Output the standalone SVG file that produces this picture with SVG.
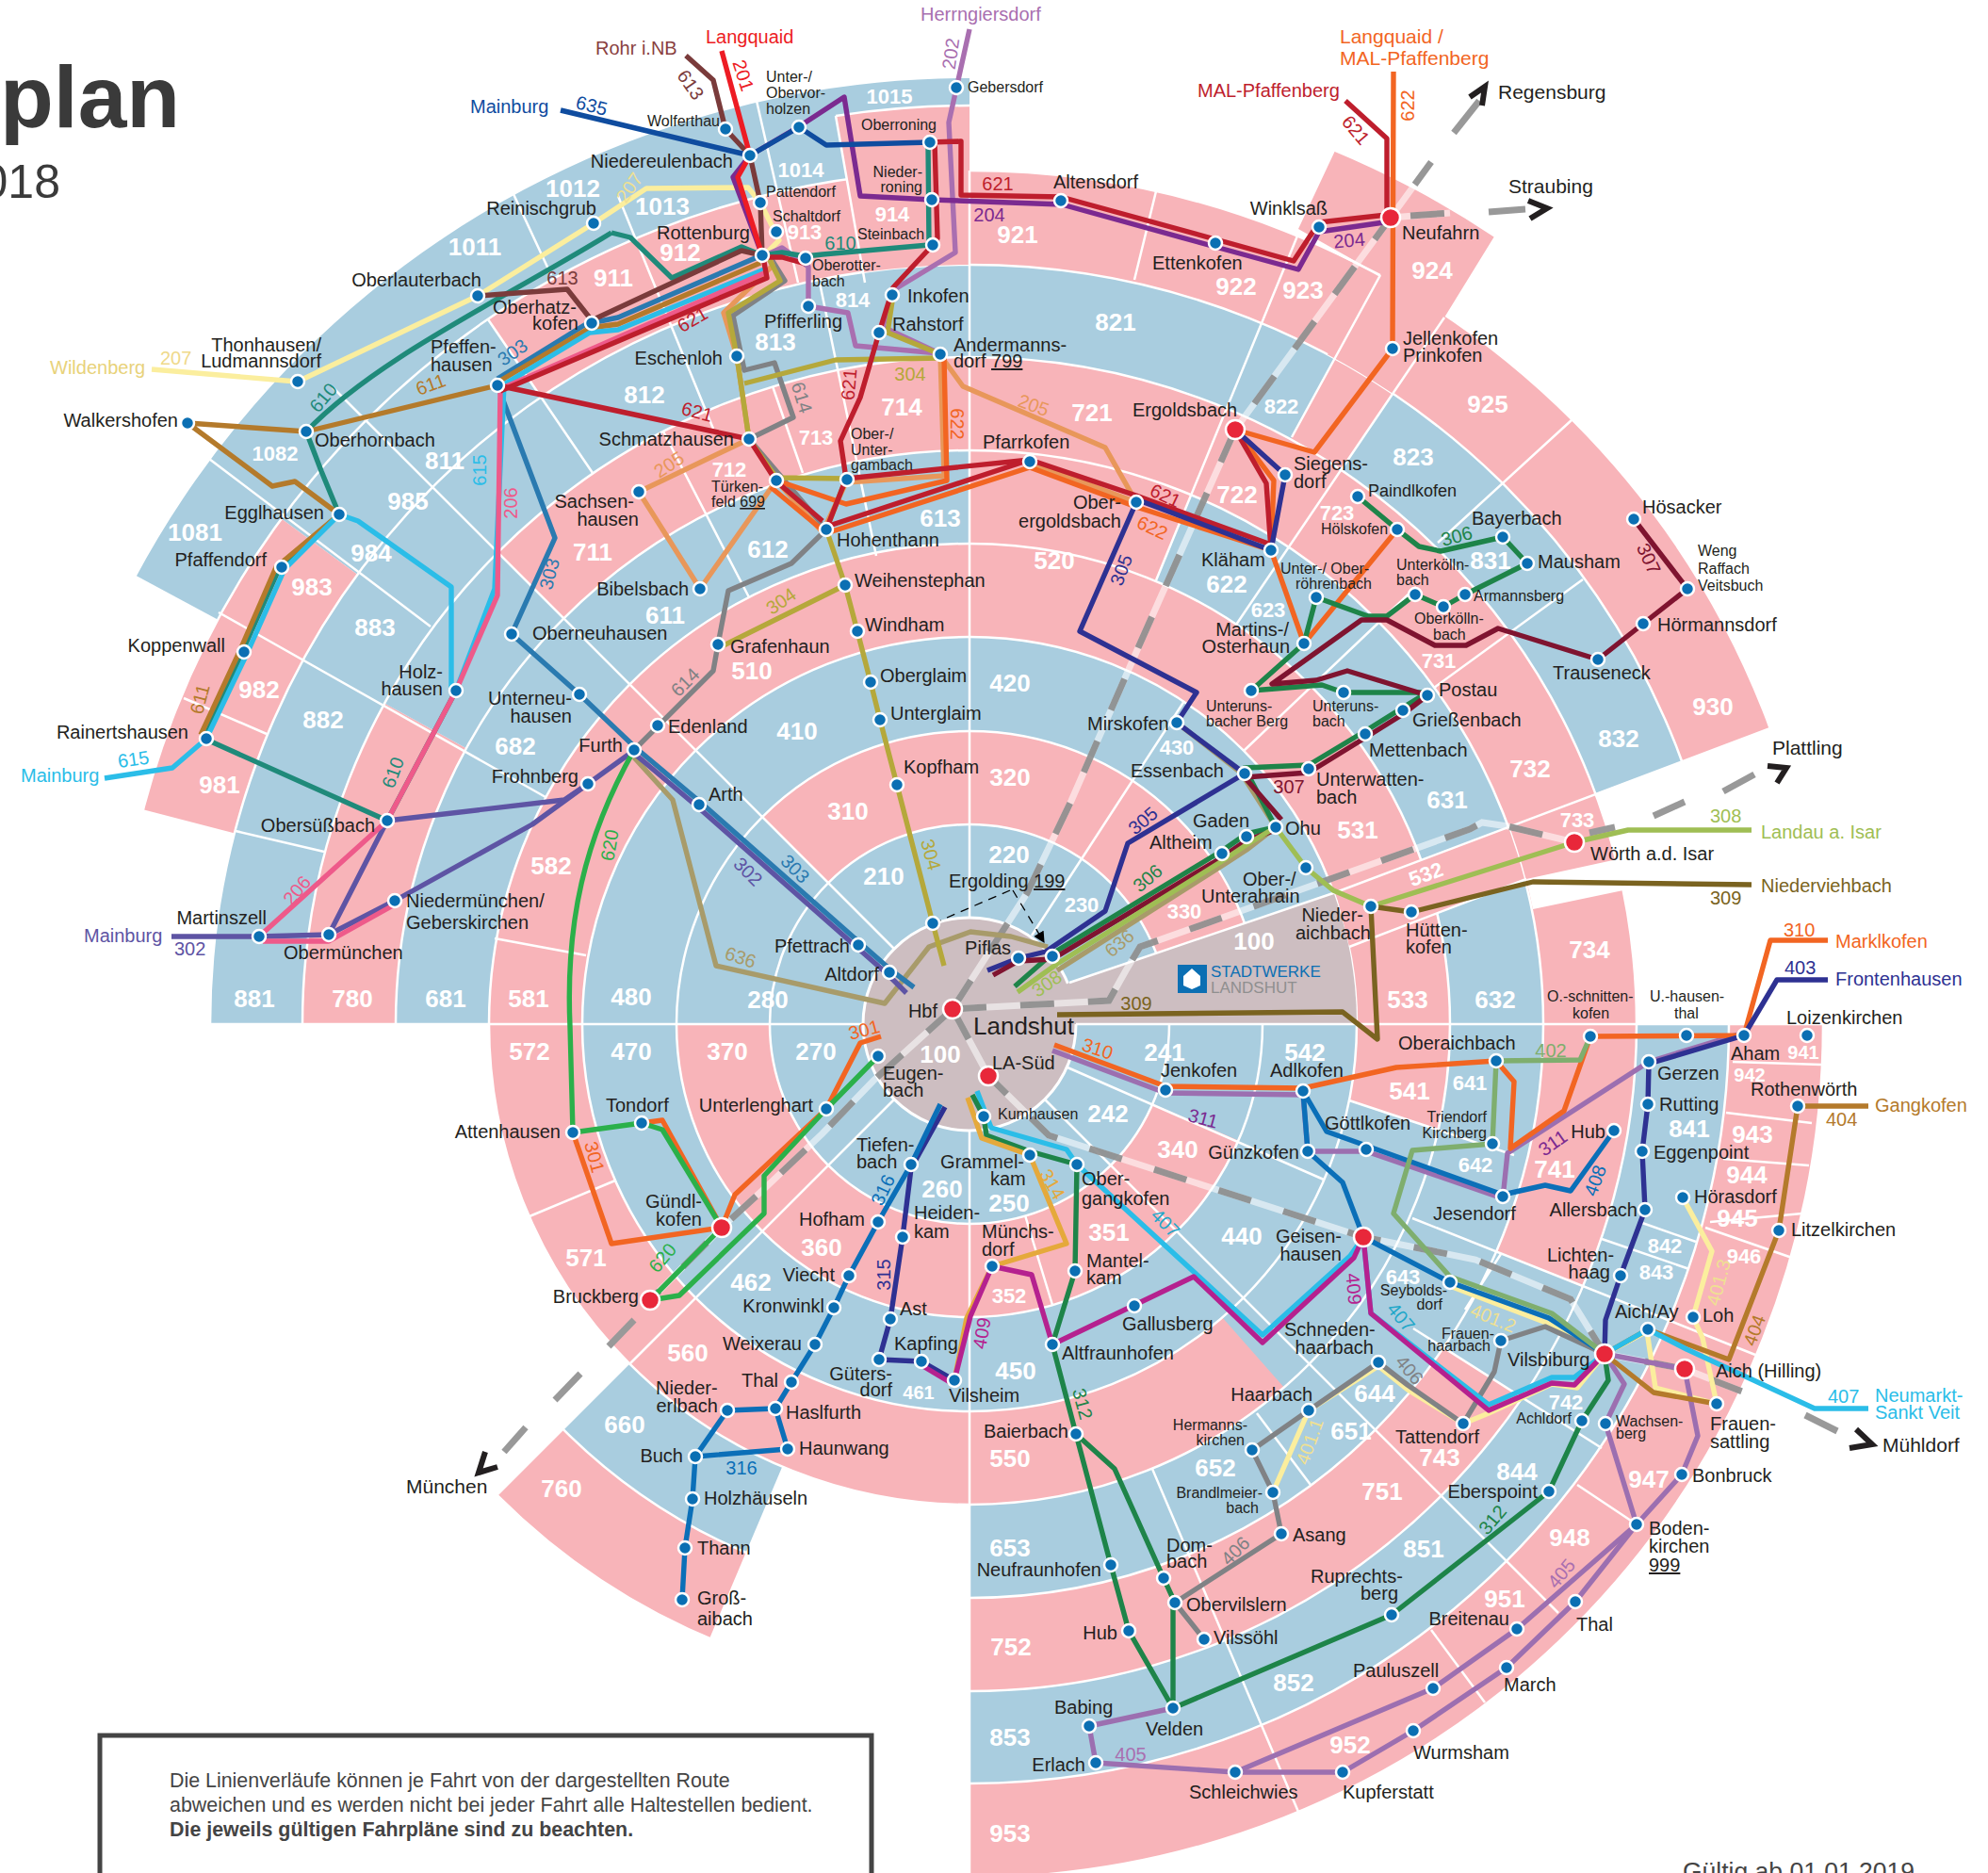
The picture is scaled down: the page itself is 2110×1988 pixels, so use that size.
<svg xmlns="http://www.w3.org/2000/svg" width="2110" height="1988" viewBox="0 0 2110 1988">
<style>
text{font-family:"Liberation Sans",Arial,sans-serif;fill:#231f20}
.t{font-size:20px}.s{font-size:16px}.e{text-anchor:end}.d{font-size:21.5px}
.z{font-size:26px;font-weight:bold;fill:#fff;text-anchor:middle}
.zs{font-size:22px;font-weight:bold;fill:#fff;text-anchor:middle}
.n{font-size:20px;text-anchor:middle}
.p{fill:#f8b4b9}.b{fill:#a9cddf}.g{fill:#cdbec1}
.w{fill:none;stroke:#fff;stroke-width:2.5}
.st{fill:#0b6fb3;stroke:#fff;stroke-width:2.5}
.rd{fill:#e8273a;stroke:#fff;stroke-width:2.5}
.c path,.c polyline{fill:none;stroke-width:5.4;stroke-linejoin:round}
.rl{fill:none;stroke:#fff;stroke-width:7;opacity:.55}
.rk{fill:none;stroke:#858585;stroke-width:7;stroke-dasharray:36 36;opacity:.85}
.rs{fill:none;stroke:#999;stroke-width:7}
.ch{fill:none;stroke:#231f20;stroke-width:6}
</style>
<defs>
<clipPath id="c2"><path clip-rule="evenodd" d="M718,1087a311,311 0 1,0 622,0a311,311 0 1,0 -622,0zM817,1087a212,212 0 1,0 424,0a212,212 0 1,0 -424,0z"/></clipPath>
<clipPath id="c4"><path clip-rule="evenodd" d="M519,1087a510,510 0 1,0 1020,0a510,510 0 1,0 -1020,0zM618,1087a411,411 0 1,0 822,0a411,411 0 1,0 -822,0z"/></clipPath>
<clipPath id="c5"><path clip-rule="evenodd" d="M420,1087a609,609 0 1,0 1218,0a609,609 0 1,0 -1218,0zM519,1087a510,510 0 1,0 1020,0a510,510 0 1,0 -1020,0z"/></clipPath>
<clipPath id="c6"><path clip-rule="evenodd" d="M321,1087a708,708 0 1,0 1416,0a708,708 0 1,0 -1416,0zM420,1087a609,609 0 1,0 1218,0a609,609 0 1,0 -1218,0z"/></clipPath>
<clipPath id="c7"><path clip-rule="evenodd" d="M223,1087a806,806 0 1,0 1612,0a806,806 0 1,0 -1612,0zM321,1087a708,708 0 1,0 1416,0a708,708 0 1,0 -1416,0z"/></clipPath>
<clipPath id="c8"><path clip-rule="evenodd" d="M123,1087a906,906 0 1,0 1812,0a906,906 0 1,0 -1812,0zM223,1087a806,806 0 1,0 1612,0a806,806 0 1,0 -1612,0z"/></clipPath>
<clipPath id="c9"><path clip-rule="evenodd" d="M25,1087a1004,1004 0 1,0 2008,0a1004,1004 0 1,0 -2008,0zM123,1087a906,906 0 1,0 1812,0a906,906 0 1,0 -1812,0z"/></clipPath>
<clipPath id="c89"><path clip-rule="evenodd" d="M25,1087a1004,1004 0 1,0 2008,0a1004,1004 0 1,0 -2008,0zM223,1087a806,806 0 1,0 1612,0a806,806 0 1,0 -1612,0z"/></clipPath>
<clipPath id="c45"><path clip-rule="evenodd" d="M420,1087a609,609 0 1,0 1218,0a609,609 0 1,0 -1218,0zM618,1087a411,411 0 1,0 822,0a411,411 0 1,0 -822,0z"/></clipPath>
<clipPath id="d3"><circle cx="1029" cy="1087" r="411"/></clipPath>
<marker id="ah" viewBox="0 0 10 10" refX="9" refY="5" markerWidth="12" markerHeight="12" markerUnits="userSpaceOnUse" orient="auto"><path d="M0,0L10,5L0,10z" fill="#000"/></marker>
</defs>
<g id="zones">
<circle class="b" cx="1029" cy="1087" r="411"/>
<g clip-path="url(#c2)"><rect class="p" x="700" y="760" width="660" height="660"/><polygon class="b" points="1029,1087 -100,1087 -100,-42"/><polygon class="b" points="1029,1087 1500,1087 1500,1290 1133,1133"/></g>
<g clip-path="url(#c4)"><rect class="p" x="500" y="560" width="1060" height="1060"/><polygon class="b" points="1432,1168 1640,1237 1640,1700 1440,1560 1297,1398 1250,1346"/></g>
<g clip-path="url(#c5)"><rect class="b" x="1029" y="400" width="700" height="1400"/><rect class="b" x="400" y="400" width="629" height="687"/><polygon class="p" points="1029,1087 1029,300 1341,339 1227,616"/><polygon class="b" points="1029,1087 329,1787 616,2063"/></g>
<g clip-path="url(#c6)"><rect class="p" x="1029" y="300" width="800" height="1600"/><polygon class="p" points="1029,1087 1029,-100 29,87"/><polygon class="p" points="1029,1087 -100,1087 -87,475"/><polygon class="b" points="1029,1087 -87,475 29,87"/><polygon class="b" points="1460,1270 1540,1308 1713,1380 1700,1537 1540,1435 1460,1384"/><polygon class="p" points="1029,1087 329,1787 616,2063"/></g>
<g clip-path="url(#c7)"><polygon class="b" points="1029,1087 -100,1087 -100,-100 1029,-100"/><polygon class="b" points="1029,-100 2200,-100 2200,653 1694,842 1694,1087 2200,1087 2200,2100 1029,2100"/><polygon class="p" points="1465,292 1533,337 1364,585 1330,539"/></g>
<g clip-path="url(#c8)"><polygon class="p" points="1029,-100 2200,-100 2200,653 1694,842 1694,1087 2200,1087 2200,2100 1029,2100"/><polygon class="p" points="1029,1087 1029,-100 262,-35"/><polygon class="b" points="1029,1087 262,-35 80,390"/><polygon class="p" points="1029,1087 80,390 -107,792"/></g>
<g clip-path="url(#c9)"><polygon class="b" points="1029,1087 -32,516 -32,-100 1029,-100"/></g>
<g fill="none" stroke="#fff" stroke-width="2.5"><circle cx="1029" cy="1087" r="212"/><circle cx="1029" cy="1087" r="311"/><circle cx="1029" cy="1087" r="411"/><circle cx="1029" cy="1087" r="510"/><circle cx="1029" cy="1087" r="609"/><circle cx="1029" cy="1087" r="708"/><circle cx="1029" cy="1087" r="806"/><circle cx="1029" cy="1087" r="906"/></g>
<g clip-path="url(#c89)"><polygon class="p" points="1378,243 1440,111 1610,212 1533,337 1400,530 1340,480 1465,292"/><path class="p" d="M887,123A975,975 0 0 1 1029,112L1029,300L918,300Z"/></g>
<g clip-path="url(#c45)"><polygon class="p" points="1418,947 1694,842 1700,902 1432,1005"/></g>
<polygon fill="#fff" points="1620,933 1735,908 1742,941 1627,965"/>
<circle class="g" cx="1029" cy="1087" r="113" stroke="#fff" stroke-width="3"/>
<g clip-path="url(#d3)"><polygon class="g" points="1090,1087 1100,1060 1135,1043 1418,947 1460,930 1460,1087"/></g>
<g class="w">
<path class="w" d="M1029,974V181M1029,1200V1993M915,1087H223M1142,1087H1936"/>
<path class="w" d="M949,1007L353,411M949,1167L669,1447M1109,1167L1654,1712M1133,1133L1405,1252M1499,1293L1863,1438M1432,1168L1607,1226M1500,1410L1700,1537"/>
<path class="w" d="M545,206L585,292M656,208L757,455M803,107L847,300M887,123L918,300M870,300L930,590M820,410L852,502M518,339L629,502M704,458L795,634M222,487L457,665M232,650L579,846M195,741L283,779M250,882L344,904M525,996L622,1014M562,1291L653,1253"/>
<path class="w" d="M1227,203L1204,297M1378,248L1227,616M1465,292L1371,464M1378,248L1465,292M1533,337L1312,663M1135,1043L1418,947L1879,773M1432,1005L1620,933M1669,445L1526,576M1680,615L1522,730M1503,623L1320,797M1095,993L1257,744"/>
<path class="w" d="M1223,1559L1378,1923M1334,1500L1391,1576M1519,1730L1576,1807M1674,1576L1734,1616M1088,1290L1117,1385M1700,1315L1793,1347M1743,1298L1800,1318M1593,1331L1555,1390"/>
<path class="w" d="M1839,1127L1933,1130M1832,1181L1923,1192M1829,1230L1920,1237M1815,1297L1913,1288M1810,1303L1902,1335M887,123A975,975 0 0 1 1029,112"/>
</g>
<g id="zonelabels">
<text class="zs" x="944" y="110">1015</text><text class="z" x="608" y="209">1012</text><text class="z" x="703" y="228">1013</text><text class="zs" x="850" y="188">1014</text><text class="z" x="504" y="271">1011</text><text class="zs" x="947" y="235">914</text><text class="zs" x="854" y="254">913</text><text class="z" x="722" y="277">912</text><text class="z" x="651" y="304">911</text><text class="zs" x="905" y="326">814</text><text class="z" x="823" y="372">813</text><text class="z" x="684" y="428">812</text><text class="z" x="472" y="498">811</text><text class="z" x="433" y="541">985</text><text class="zs" x="292" y="489">1082</text><text class="z" x="207" y="574">1081</text><text class="z" x="394" y="596">984</text><text class="z" x="331" y="632">983</text><text class="z" x="398" y="675">883</text><text class="z" x="275" y="741">982</text><text class="z" x="343" y="773">882</text><text class="z" x="547" y="801">682</text><text class="z" x="233" y="842">981</text><text class="z" x="270" y="1069">881</text><text class="z" x="374" y="1069">780</text><text class="z" x="473" y="1069">681</text><text class="z" x="561" y="1069">581</text><text class="z" x="670" y="1067">480</text><text class="z" x="815" y="1070">280</text><text class="z" x="562" y="1125">572</text><text class="z" x="670" y="1125">470</text><text class="z" x="772" y="1125">370</text><text class="z" x="866" y="1125">270</text><text class="z" x="585" y="928">582</text><text class="z" x="957" y="441">714</text><text class="zs" x="866" y="472">713</text><text class="zs" x="774" y="506">712</text><text class="z" x="629" y="595">711</text><text class="z" x="998" y="559">613</text><text class="z" x="815" y="592">612</text><text class="z" x="706" y="662">611</text><text class="z" x="798" y="721">510</text><text class="z" x="846" y="785">410</text><text class="z" x="900" y="870">310</text><text class="z" x="938" y="939">210</text><text class="z" x="663" y="1521">660</text><text class="z" x="596" y="1589">760</text><text class="z" x="730" y="1445">560</text><text class="z" x="622" y="1344">571</text><text class="z" x="797" y="1370">462</text><text class="z" x="872" y="1333">360</text><text class="zs" x="975" y="1485" style="font-size:20px">461</text><text class="z" x="1000" y="1271">260</text><text class="z" x="1071" y="1286">250</text><text class="z" x="998" y="1128">100</text><text class="z" x="1071" y="916">220</text><text class="zs" x="1148" y="968">230</text><text class="zs" x="1257" y="975">330</text><text class="z" x="1236" y="1126">241</text><text class="z" x="1176" y="1191">242</text><text class="z" x="1250" y="1229">340</text><text class="z" x="1177" y="1317">351</text><text class="zs" x="1071" y="1383">352</text><text class="z" x="1318" y="1321">440</text><text class="z" x="1078" y="1464">450</text><text class="z" x="1072" y="1557">550</text><text class="z" x="1072" y="1652">653</text><text class="z" x="1073" y="1757">752</text><text class="z" x="1072" y="1853">853</text><text class="z" x="1072" y="1955">953</text><text class="z" x="1290" y="1567">652</text><text class="z" x="1459" y="1488">644</text><text class="z" x="1434" y="1528">651</text><text class="zs" x="1489" y="1363">643</text><text class="z" x="1528" y="1556">743</text><text class="z" x="1467" y="1592">751</text><text class="zs" x="1662" y="1496">742</text><text class="z" x="1610" y="1571">844</text><text class="z" x="1511" y="1653">851</text><text class="z" x="1373" y="1795">852</text><text class="z" x="1750" y="1579">947</text><text class="z" x="1666" y="1641">948</text><text class="z" x="1597" y="1706">951</text><text class="z" x="1433" y="1861">952</text><text class="zs" x="1767" y="1330">842</text><text class="zs" x="1758" y="1358">843</text><text class="zs" x="1851" y="1341">946</text><text class="z" x="1844" y="1302">945</text><text class="z" x="1854" y="1256">944</text><text class="z" x="1860" y="1213">943</text><text class="zs" x="1857" y="1148" style="font-size:20px">942</text><text class="zs" x="1914" y="1124" style="font-size:20px">941</text><text class="z" x="1793" y="1207">841</text><text class="z" x="1650" y="1250">741</text><text class="zs" x="1566" y="1244">642</text><text class="zs" x="1560" y="1157">641</text><text class="z" x="1496" y="1167">541</text><text class="z" x="1385" y="1126">542</text><text class="z" x="1494" y="1070">533</text><text class="z" x="1587" y="1070">632</text><text class="z" x="1687" y="1017">734</text><text class="zs" transform="translate(1516,935) rotate(-20)" x="0" y="0">532</text><text class="zs" x="1674" y="878">733</text><text class="z" x="1624" y="825">732</text><text class="z" x="1718" y="793">832</text><text class="z" x="1818" y="759">930</text><text class="z" x="1536" y="858">631</text><text class="z" x="1441" y="890">531</text><text class="zs" x="1249" y="801">430</text><text class="z" x="1072" y="734">420</text><text class="z" x="1072" y="834">320</text><text class="z" x="1331" y="1008">100</text><text class="zs" x="1527" y="709">731</text><text class="zs" x="1346" y="655">623</text><text class="z" x="1302" y="629">622</text><text class="z" x="1119" y="604">520</text><text class="zs" x="1419" y="552">723</text><text class="z" x="1313" y="534">722</text><text class="z" x="1159" y="447">721</text><text class="zs" x="1360" y="439">822</text><text class="z" x="1500" y="494">823</text><text class="z" x="1582" y="604">831</text><text class="z" x="1579" y="438">925</text><text class="z" x="1184" y="351">821</text><text class="z" x="1080" y="258">921</text><text class="z" x="1312" y="313">922</text><text class="z" x="1383" y="317">923</text><text class="z" x="1520" y="296">924</text>
</g>
</g>
<g id="rail">
<polyline class="rl" points="1011,1071 1090,948 1137,850 1210,683 1311,456 1476,231 1519,172"/><polyline class="rk" points="1011,1071 1090,948 1137,850 1210,683 1311,456 1476,231 1519,172"/>
<polyline class="rs" points="1543,141 1570,107"/>
<polyline class="rl" points="1476,231 1539,226"/><polyline class="rk" points="1497,229 1539,226"/><polyline class="rs" points="1580,225 1619,222"/>
<polyline class="rl" points="1011,1071 1177,1062 1195,1030 1210,1005 1300,973 1560,880 1573,873 1600,877 1671,894"/><polyline class="rk" points="1011,1071 1177,1062 1195,1030 1210,1005 1300,973 1560,880 1573,873 1600,877 1671,894"/>
<polyline class="rs" points="1687,884 1714,878"/><polyline class="rs" points="1755,866 1788,851"/><polyline class="rs" points="1829,840 1862,822"/>
<polyline class="rl" points="1011,1071 1049,1142 1113,1205 1447,1313 1566,1337 1667,1379 1703,1437 1788,1453 1877,1488"/><polyline class="rk" points="1011,1071 1049,1142 1113,1205 1447,1313 1566,1337 1667,1379 1703,1437 1788,1453 1877,1488"/>
<polyline class="rs" points="1916,1502 1950,1519"/>
<polyline class="rl" points="1011,1071 927,1147 873,1203 813,1260 766,1303 690,1380"/><polyline class="rk" points="1011,1071 927,1147 873,1203 813,1260 766,1303 690,1380"/>
<polyline class="rs" points="673,1401 646,1429"/><polyline class="rs" points="616,1458 589,1486"/><polyline class="rs" points="558,1515 535,1541"/>
<polyline class="ch" points="1560,103 1576,92 1573,112"/><polyline class="ch" points="1622,213 1642,221 1624,232"/><polyline class="ch" points="1876,813 1896,815 1886,831" stroke="#444"/><polyline class="ch" points="1970,1517 1987,1533 1963,1537"/><polyline class="ch" points="515,1541 508,1563 528,1557"/>
</g>
<g id="connectors" class="c">
<g stroke="#fbee9e"><polyline points="161,392 303,404 316,405 507,314 630,237 686,200 794,199 807,215 823,247 827,255 810,272"/><polyline points="1539,1365 1644,1405 1703,1437 1674,1473 1647,1469 1580,1500 1553,1511 1494,1475 1463,1450 1389,1497 1351,1584"/><polyline points="1786,1271 1817,1328 1797,1398 1807,1420 1822,1490 1757,1473 1748,1413 1703,1437"/></g>
<g stroke="#a96fb0"><polyline points="1029,31 1007,130 1014,268 948,308 937,347 997,375 908,367 900,332 858,325 858,283 830,263 810,272"/></g>
<g stroke="#9c6fb0"><polyline points="1117,1115 1237,1160 1383,1162 1388,1222 1450,1222 1595,1272 1600,1224 1750,1127 1851,1096"/><polyline points="1703,1437 1724,1469 1704,1511 1737,1618 1672,1700 1599,1770 1500,1837 1425,1881 1311,1881 1163,1871 1156,1832 1245,1813"/><polyline points="1703,1437 1788,1453 1802,1524 1785,1565 1737,1618 1610,1729 1521,1792 1311,1881"/></g>
<g stroke="#a89b6a"><polyline points="673,804 714,849 760,1025 939,1065 986,1005 1030,989 1073,994 1112,1005"/><polyline points="1122,1030 1300,917 1323,902 1354,878 1317,820 1249,767"/></g>
<g stroke="#808285"><polyline points="809,271 820,277 833,298 778,335 790,393 822,385 842,443 795,466 877,562 840,598 773,627 762,684 757,712 673,796"/><polyline points="1703,1437 1640,1408 1593,1423 1586,1456 1553,1511 1494,1470 1463,1446 1389,1497 1329,1539 1351,1584 1360,1628 1247,1701 1278,1740"/></g>
<g stroke="#e8975a"><polyline points="678,522 795,466 782,378 768,332 820,282 816,272"/><polyline points="678,522 743,625 824,510 873,565 898,512 1002,505 998,377 1022,410 1173,475 1206,533"/><polyline points="1093,491 1206,533"/></g>
<g stroke="#b5a83b"><polyline points="1002,1025 990,980 952,833 934,764 924,724 910,670 897,621 877,562 898,508 824,507 795,466 782,378 773,332 828,298 815,272"/><polyline points="790,407 887,382 998,380"/><polyline points="998,376 942,353 948,313"/><polyline points="897,621 762,688"/></g>
<g stroke="#5e54a4"><polyline points="182,994 275,994 349,992 411,871 599,849 624,832"/><polyline points="349,992 419,956 565,875 624,832 671,798 740,856 909,1005 942,1034 962,1054"/></g>
<g stroke="#2a7ab0"><polyline points="528,402 622,344 656,337 806,272"/><polyline points="528,409 589,571 543,673 615,737 675,794 744,852 913,1001 946,1030 970,1048"/></g>
<g stroke="#1f8a7a"><polyline points="985,151 986,260 873,270 855,272 830,268 809,271 787,262 713,295 669,252 649,247"/><path d="M649,247C530,320 400,380 325,458L341,500L360,546L297,602L257,692L217,784L411,871L484,733"/></g>
<g stroke="#b47a2b"><polyline points="807,279 656,344 626,348 531,404 528,409 325,458 199,449 289,516 313,511 360,546 293,602 254,692 213,780"/><polyline points="1983,1174 1908,1174 1888,1306 1835,1443 1749,1411 1703,1437 1755,1478 1822,1490"/></g>
<g stroke="#2bbde8"><polyline points="811,286 656,350 626,353 535,408 525,625 484,733"/><polyline points="360,546 380,553 479,623 479,730"/><polyline points="360,546 302,604 262,694 219,784 183,815 111,826"/><polyline points="1037,1158 1052,1197 1132,1220 1143,1236 1340,1417 1433,1333 1447,1313 1455,1394 1580,1491 1647,1462 1671,1462 1703,1437 1749,1411 1790,1432 1926,1495 1983,1495"/></g>
<g stroke="#ee5a8a"><polyline points="811,290 531,413 528,632 484,733 411,871 275,994"/><polyline points="279,999 349,999 419,960"/></g>
<g stroke="#7a3b3b"><polyline points="728,59 757,85 770,137 796,165 807,215 809,271 787,266 628,340 602,307 507,314"/></g>
<g stroke="#7b2a90"><polyline points="809,271 778,188 796,165 847,135 896,103 913,208 989,212 1127,217 1290,262 1378,286 1400,246 1476,235"/></g>
<g stroke="#ed1c24"><polyline points="766,54 796,165 783,188 809,271"/></g>
<g stroke="#0f4c9f"><polyline points="595,117 796,165 848,135 877,154 987,151"/></g>
<g stroke="#f26522"><polyline points="1479,76 1478,370 1395,480 1311,456 1352,510 1349,584 1206,538 1093,496 877,566 818,517"/><polyline points="824,510 898,535 1005,510 1002,380"/><polyline points="1349,584 1384,683 1483,562"/><polyline points="935,1100 913,1107 877,1177 780,1268 766,1303 649,1320 608,1202"/><polyline points="766,1303 703,1189 681,1192"/><polyline points="1940,998 1879,998 1851,1099 1688,1100 1660,1179 1603,1219 1607,1148 1588,1126 1482,1133 1383,1155 1237,1153 1119,1109"/></g>
<g stroke="#be1e2d"><polyline points="1428,107 1472,147 1472,228 1400,236 1373,277 1290,254 1126,209 1020,207 1020,150 987,151 992,151 995,253 990,260 948,305 933,353 913,422 892,468 898,508 877,562"/><polyline points="898,508 1093,488 1206,526 1349,578"/><polyline points="1311,456 1344,513 1349,584"/><polyline points="877,559 1093,488"/><polyline points="531,415 814,295 810,273 830,273 855,280"/><polyline points="528,409 795,466 824,511 873,553"/></g>
<g stroke="#2e3192"><polyline points="1206,533 1146,670 1270,735 1249,767 1321,821 1197,895 1173,967 1110,1010 1081,1017 1048,1030"/><polyline points="1311,456 1364,504 1349,584 1206,530"/><polyline points="1003,1175 967,1240 958,1313 945,1400 933,1443 978,1445 1013,1465"/><polyline points="1940,1040 1886,1040 1851,1099 1750,1129 1749,1172 1743,1222 1746,1284 1720,1354 1704,1401 1703,1437"/></g>
<g stroke="#1e8449"><polyline points="1441,527 1483,562 1506,580 1529,585 1595,570 1621,598 1555,631 1532,644 1502,631 1472,654 1452,654 1397,634 1384,683 1328,733 1403,727 1426,735 1515,735 1489,751 1449,776 1389,812 1321,815 1354,878 1323,885 1297,903 1117,1012 1077,1047"/><polyline points="1032,1162 1044,1185 1047,1205 1093,1222 1143,1236 1141,1349 1117,1427 1142,1522 1179,1661 1198,1731 1245,1813 1245,1701"/><polyline points="1142,1522 1183,1559 1235,1675 1247,1701"/><polyline points="1245,1813 1477,1714 1644,1583 1679,1508 1707,1465 1703,1437"/></g>
<g stroke="#7f1430"><polyline points="1734,551 1791,625 1744,662 1696,700 1590,667 1556,685 1523,685 1472,658 1445,658 1350,726 1397,722 1430,712 1515,738 1489,758 1449,783 1389,820 1321,825 1360,870"/><polyline points="1354,881 1323,892 1297,910 1117,1018 1081,1020 1054,1035"/></g>
<g stroke="#9fbe54"><polyline points="1859,881 1728,881 1671,894 1455,962 1415,945 1386,921 1354,878 1324,896 1297,914 1122,1023 1080,1053"/></g>
<g stroke="#7a6320"><polyline points="1859,939 1627,936 1498,968 1455,962 1462,1103 1425,1074 1122,1077"/></g>
<g stroke="#0b6fb8"><polyline points="1713,1200 1667,1264 1640,1258 1595,1268 1450,1216 1408,1201 1383,1158 1388,1222 1425,1255 1447,1313 1539,1361 1644,1399 1703,1437"/><polyline points="998,1172 967,1236 932,1297 901,1354 885,1388 865,1427 840,1467 823,1495 772,1497 738,1546 735,1591 727,1643 724,1698"/><polyline points="823,1495 836,1538 738,1546"/></g>
<g stroke="#7fae6e"><polyline points="1588,1126 1677,1125 1688,1100"/><polyline points="1588,1126 1584,1214 1499,1221 1479,1288 1539,1355 1647,1394 1703,1437"/></g>
<g stroke="#2bb04a"><path d="M673,796C620,890 600,980 605,1090L608,1202L681,1192L703,1199L766,1303L690,1380L721,1375L811,1288L811,1248L877,1177L932,1121"/></g>
<g stroke="#e5a93b"><polyline points="1027,1165 1042,1208 1093,1226 1132,1320 1053,1344 1026,1399 1013,1465"/></g>
<g stroke="#b5218f"><polyline points="1013,1465 1030,1397 1053,1344 1095,1353 1117,1427 1267,1355 1340,1425 1437,1335 1447,1313 1455,1394 1580,1497 1647,1468 1671,1470 1703,1437"/><polyline points="978,1449 1013,1470"/></g>
</g>
<path d="M1072,945L998,977M1075,945L1108,1000" fill="none" stroke="#000" stroke-width="1.3" stroke-dasharray="9 7" marker-end="url(#ah)"/>
<g id="linelabels">
<text class="n" style="fill:#ed1c24" transform="translate(789,80) rotate(72)" y="7">201</text>
<text class="n" style="fill:#7a3b3b" transform="translate(733,90) rotate(55)" y="7">613</text>
<text class="n" style="fill:#0f4c9f" transform="translate(628,112) rotate(14)" y="7">635</text>
<text class="n" style="fill:#a96fb0" transform="translate(1009,57) rotate(-82)" y="7">202</text>
<text class="n" style="fill:#efe092" transform="translate(668,199) rotate(-55)" y="7">207</text>
<text class="n" style="fill:#1f8a7a" x="892" y="265">610</text>
<text class="n" style="fill:#7a3b3b" x="597" y="302">613</text>
<text class="n" style="fill:#be1e2d" transform="translate(735,339) rotate(-30)" y="7">621</text>
<text class="n" style="fill:#be1e2d" transform="translate(740,437) rotate(15)" y="7">621</text>
<text class="n" style="fill:#b47a2b" transform="translate(457,408) rotate(-20)" y="7">611</text>
<text class="n" style="fill:#2a7ab0" transform="translate(544,374) rotate(-35)" y="7">303</text>
<text class="n" style="fill:#1f8a7a" transform="translate(343,422) rotate(-50)" y="7">610</text>
<text class="n" style="fill:#2bbde8" transform="translate(509,499) rotate(-90)" y="7">615</text>
<text class="n" style="fill:#ee5a8a" transform="translate(542,534) rotate(-90)" y="7">206</text>
<text class="n" style="fill:#2a7ab0" transform="translate(583,609) rotate(-75)" y="7">303</text>
<text class="n" style="fill:#e8975a" transform="translate(710,493) rotate(-33)" y="7">205</text>
<text class="n" style="fill:#808285" transform="translate(851,422) rotate(73)" y="7">614</text>
<text class="n" style="fill:#be1e2d" transform="translate(901,408) rotate(-85)" y="7">621</text>
<text class="n" style="fill:#b5a83b" x="966" y="404">304</text>
<text class="n" style="fill:#f26522" transform="translate(1016,450) rotate(90)" y="7">622</text>
<text class="n" style="fill:#e8975a" transform="translate(1097,430) rotate(20)" y="7">205</text>
<text class="n" style="fill:#be1e2d" x="1059" y="202">621</text>
<text class="n" style="fill:#7b2a90" x="1050" y="235">204</text>
<text class="n" style="fill:#b5a83b" transform="translate(829,638) rotate(-35)" y="7">304</text>
<text class="n" style="fill:#b5a83b" transform="translate(988,907) rotate(75)" y="7">304</text>
<text class="n" style="fill:#808285" transform="translate(727,724) rotate(-45)" y="7">614</text>
<text class="n" style="fill:#b47a2b" transform="translate(212,742) rotate(-75)" y="7">611</text>
<text class="n" style="fill:#1f8a7a" transform="translate(417,820) rotate(-70)" y="7">610</text>
<text class="n" style="fill:#2bb04a" transform="translate(647,897) rotate(-80)" y="7">620</text>
<text class="n" style="fill:#5e54a4" transform="translate(794,925) rotate(45)" y="7">302</text>
<text class="n" style="fill:#2a7ab0" transform="translate(844,922) rotate(45)" y="7">303</text>
<text class="n" style="fill:#a89b6a" transform="translate(786,1016) rotate(18)" y="7">636</text>
<text class="n" style="fill:#ee5a8a" transform="translate(315,945) rotate(-50)" y="7">206</text>
<text class="n" style="fill:#f26522" transform="translate(631,1228) rotate(75)" y="7">301</text>
<text class="n" style="fill:#f26522" transform="translate(917,1093) rotate(-15)" y="7">301</text>
<text class="n" style="fill:#2bb04a" transform="translate(703,1335) rotate(-50)" y="7">620</text>
<text class="n" style="fill:#0b6fb8" transform="translate(937,1263) rotate(-65)" y="7">316</text>
<text class="n" style="fill:#2e3192" transform="translate(938,1353) rotate(-90)" y="7">315</text>
<text class="n" style="fill:#e5a93b" transform="translate(1117,1257) rotate(60)" y="7">314</text>
<text class="n" style="fill:#1ea7c9" transform="translate(1237,1298) rotate(45)" y="7">407</text>
<text class="n" style="fill:#f26522" transform="translate(1165,1113) rotate(18)" y="7">310</text>
<text class="n" style="fill:#7b2a90" transform="translate(1277,1187) rotate(15)" y="7">311</text>
<text class="n" style="fill:#b5218f" transform="translate(1042,1415) rotate(-80)" y="7">409</text>
<text class="n" style="fill:#b5218f" transform="translate(1437,1368) rotate(85)" y="7">409</text>
<text class="n" style="fill:#1e8449" transform="translate(1149,1490) rotate(75)" y="7">312</text>
<text class="n" style="fill:#0b6fb8" x="787" y="1565">316</text>
<text class="n" style="fill:#2e3192" transform="translate(1190,605) rotate(-70)" y="7">305</text>
<text class="n" style="fill:#f26522" transform="translate(1223,560) rotate(25)" y="7">622</text>
<text class="n" style="fill:#be1e2d" transform="translate(1237,526) rotate(25)" y="7">621</text>
<text class="n" style="fill:#7b2a90" transform="translate(1432,255) rotate(-5)" y="7">204</text>
<text class="n" style="fill:#be1e2d" transform="translate(1439,138) rotate(50)" y="7">621</text>
<text class="n" style="fill:#f26522" transform="translate(1494,112) rotate(-90)" y="7">622</text>
<text class="n" style="fill:#1e8449" transform="translate(1546,569) rotate(-15)" y="7">306</text>
<text class="n" style="fill:#7f1430" transform="translate(1750,593) rotate(65)" y="7">307</text>
<text class="n" style="fill:#7f1430" x="1368" y="842">307</text>
<text class="n" style="fill:#2e3192" transform="translate(1213,871) rotate(-40)" y="7">305</text>
<text class="n" style="fill:#1e8449" transform="translate(1218,932) rotate(-40)" y="7">306</text>
<text class="n" style="fill:#a89b6a" transform="translate(1188,1001) rotate(-40)" y="7">636</text>
<text class="n" style="fill:#9fbe54" transform="translate(1111,1044) rotate(-35)" y="7">308</text>
<text class="n" style="fill:#7a6320" x="1206" y="1072">309</text>
<text class="n" style="fill:#7fae6e" x="1646" y="1122">402</text>
<text class="n" style="fill:#7b2a90" transform="translate(1648,1213) rotate(-35)" y="7">311</text>
<text class="n" style="fill:#0b6fb8" transform="translate(1693,1253) rotate(-70)" y="7">408</text>
<text class="n" style="fill:#efe092" transform="translate(1585,1399) rotate(22)" y="7">401.2</text>
<text class="n" style="fill:#efe092" transform="translate(1824,1361) rotate(-75)" y="7">401.3</text>
<text class="n" style="fill:#b47a2b" transform="translate(1862,1412) rotate(-70)" y="7">404</text>
<text class="n" style="fill:#1ea7c9" transform="translate(1487,1398) rotate(50)" y="7">407</text>
<text class="n" style="fill:#808285" transform="translate(1496,1454) rotate(50)" y="7">406</text>
<text class="n" style="fill:#efe092" transform="translate(1390,1530) rotate(-70)" y="7">401.1</text>
<text class="n" style="fill:#808285" transform="translate(1311,1646) rotate(-45)" y="7">406</text>
<text class="n" style="fill:#1e8449" transform="translate(1584,1613) rotate(-50)" y="7">312</text>
<text class="n" style="fill:#a96fb0" x="1200" y="1869">405</text>
<text class="n" style="fill:#a96fb0" transform="translate(1657,1670) rotate(-50)" y="7">405</text>
<text class="t" style="fill:#efd98a" x="170" y="387">207</text>
<text class="t" style="fill:#2bbde8" transform="translate(126,815) rotate(-8)">615</text>
<text class="t" style="fill:#5e54a4" x="185" y="1014">302</text>
<text class="t" style="fill:#b47a2b" x="1938" y="1195">404</text>
<text class="t" style="fill:#f26522" x="1893" y="994">310</text>
<text class="t" style="fill:#2e3192" x="1894" y="1034">403</text>
<text class="t" style="fill:#7a6320" x="1815" y="960">309</text>
<text class="t" style="fill:#9fbe54" x="1815" y="873">308</text>
<text class="t" style="fill:#2bbde8" x="1940" y="1489">407</text>
</g>
<g id="destinations">
<text class="t" style="fill:#8a3f3f" x="632" y="58">Rohr i.NB</text>
<text class="t" style="fill:#ed1c24" x="749" y="46">Langquaid</text>
<text class="t" style="fill:#a96fb0" x="977" y="22">Herrngiersdorf</text>
<text class="t" style="fill:#0f4c9f" x="499" y="120">Mainburg</text>
<text class="t" style="fill:#e8d27a" x="53" y="397">Wildenberg</text>
<text class="t" style="fill:#2bbde8" x="22" y="830">Mainburg</text>
<text class="t" style="fill:#5e54a4" x="89" y="1000">Mainburg</text>
<text class="t" style="fill:#be1e2d" x="1271" y="103">MAL-Pfaffenberg</text>
<text class="t" style="fill:#f26522;font-size:21px" x="1422" y="46">Langquaid /</text><text class="t" style="fill:#f26522;font-size:21px" x="1422" y="69">MAL-Pfaffenberg</text>
<text class="t" style="fill:#f26522" x="1948" y="1006">Marklkofen</text>
<text class="t" style="fill:#2e3192" x="1948" y="1046">Frontenhausen</text>
<text class="t" style="fill:#b47a2b" x="1990" y="1180">Gangkofen</text>
<text class="t" style="fill:#7a6320" x="1869" y="947">Niederviehbach</text>
<text class="t" style="fill:#9fbe54" x="1869" y="890">Landau a. Isar</text>
<text class="t" style="fill:#2bbde8" x="1990" y="1488">Neumarkt-</text><text class="t" style="fill:#2bbde8" x="1990" y="1506">Sankt Veit</text>
<text class="t" style="font-size:21px" x="1590" y="105">Regensburg</text><text class="t" style="font-size:21px" x="1601" y="205">Straubing</text><text class="t" style="font-size:21px" x="1881" y="801">Plattling</text><text class="t" style="font-size:21px" x="1998" y="1541">Mühldorf</text><text class="t" style="font-size:21px" x="431" y="1585">München</text>
</g>
<g id="stations">
<g id="n1"><circle class="st" cx="770" cy="137" r="7"/><text class="s e" x="764" y="134">Wolferthau</text></g>
<g id="n2"><circle class="st" cx="796" cy="165" r="7"/><text class="t e" x="778" y="178">Niedereulenbach</text></g>
<g id="n3"><circle class="st" cx="848" cy="135" r="7"/><text class="s" x="813" y="87">Unter-/</text><text class="s" x="813" y="104">Obervor-</text><text class="s" x="813" y="121">holzen</text></g>
<g id="n4"><circle class="st" cx="1015" cy="93" r="7"/><text class="s" x="1027" y="98">Gebersdorf</text></g>
<g id="n5"><circle class="st" cx="987" cy="151" r="7"/><text class="s e" x="994" y="138">Oberroning</text></g>
<g id="n6"><circle class="st" cx="989" cy="212" r="7"/><text class="s e" x="979" y="188">Nieder-</text><text class="s e" x="979" y="204">roning</text></g>
<g id="n7"><circle class="st" cx="990" cy="260" r="7"/><text class="s" x="910" y="254">Steinbach</text></g>
<g id="n8"><circle class="st" cx="807" cy="215" r="7"/><text class="s" x="813" y="209">Pattendorf</text></g>
<g id="n9"><circle class="st" cx="824" cy="246" r="7"/><text class="s" x="820" y="235">Schaltdorf</text></g>
<g id="n10"><circle class="st" cx="809" cy="271" r="7"/><text class="t e" x="796" y="254">Rottenburg</text></g>
<g id="n11"><circle class="st" cx="855" cy="274" r="7"/><text class="s" x="862" y="287">Oberotter-</text><text class="s" x="862" y="304">bach</text></g>
<g id="n12"><circle class="st" cx="630" cy="237" r="7"/><text class="t e" x="633" y="228">Reinischgrub</text></g>
<g id="n13"><circle class="st" cx="507" cy="314" r="7"/><text class="t e" x="511" y="304">Oberlauterbach</text></g>
<g id="n14"><circle class="st" cx="628" cy="343" r="7"/><text class="t e" x="612" y="333">Oberhatz-</text><text class="t e" x="614" y="350">kofen</text></g>
<g id="n15"><circle class="st" cx="528" cy="409" r="7"/><text class="t" x="457" y="375">Pfeffen-</text><text class="t" x="457" y="394">hausen</text></g>
<g id="n16"><circle class="st" cx="316" cy="405" r="7"/><text class="t e" x="341" y="373">Thonhausen/</text><text class="t e" x="341" y="390">Ludmannsdorf</text></g>
<g id="n17"><circle class="st" cx="199" cy="449" r="7"/><text class="t e" x="189" y="453">Walkershofen</text></g>
<g id="n18"><circle class="st" cx="325" cy="458" r="7"/><text class="t" x="334" y="474">Oberhornbach</text></g>
<g id="n19"><circle class="st" cx="360" cy="546" r="7"/><text class="t e" x="344" y="551">Egglhausen</text></g>
<g id="n20"><circle class="st" cx="299" cy="602" r="7"/><text class="t e" x="283" y="601">Pfaffendorf</text></g>
<g id="n21"><circle class="st" cx="259" cy="692" r="7"/><text class="t e" x="239" y="692">Koppenwall</text></g>
<g id="n22"><circle class="st" cx="947" cy="313" r="7"/><text class="t" x="963" y="321">Inkofen</text></g>
<g id="n23"><circle class="st" cx="933" cy="353" r="7"/><text class="t" x="947" y="351">Rahstorf</text></g>
<g id="n24"><circle class="st" cx="858" cy="325" r="7"/><text class="t" x="811" y="348">Pfifferling</text></g>
<g id="n25"><circle class="st" cx="998" cy="376" r="7"/><text class="t" x="1012" y="373">Andermanns-</text><text class="t" x="1012" y="390">dorf <tspan text-decoration="underline">799</tspan></text></g>
<g id="n26"><circle class="st" cx="782" cy="378" r="7"/><text class="t e" x="767" y="387">Eschenloh</text></g>
<g id="n27"><circle class="st" cx="795" cy="466" r="7"/><text class="t e" x="779" y="473">Schmatzhausen</text></g>
<g id="n28"><circle class="st" cx="824" cy="510" r="7"/><text class="s" x="755" y="522">Türken-</text><text class="s" x="755" y="538">feld <tspan text-decoration="underline">699</tspan></text></g>
<g id="n29"><circle class="st" cx="899" cy="509" r="7"/><text class="s" x="903" y="466">Ober-/</text><text class="s" x="903" y="483">Unter-</text><text class="s" x="903" y="499">gambach</text></g>
<g id="n30"><circle class="st" cx="877" cy="562" r="7"/><text class="t" x="888" y="580">Hohenthann</text></g>
<g id="n31"><circle class="st" cx="678" cy="522" r="7"/><text class="t e" x="673" y="539">Sachsen-</text><text class="t e" x="678" y="558">hausen</text></g>
<g id="n32"><circle class="st" cx="743" cy="625" r="7"/><text class="t e" x="731" y="632">Bibelsbach</text></g>
<g id="n33"><circle class="st" cx="897" cy="621" r="7"/><text class="t" x="907" y="623">Weihenstephan</text></g>
<g id="n34"><circle class="st" cx="910" cy="670" r="7"/><text class="t" x="918" y="670">Windham</text></g>
<g id="n35"><circle class="st" cx="762" cy="684" r="7"/><text class="t" x="775" y="693">Grafenhaun</text></g>
<g id="n36"><circle class="st" cx="543" cy="673" r="7"/><text class="t" x="565" y="679">Oberneuhausen</text></g>
<g id="n37"><circle class="st" cx="484" cy="733" r="7"/><text class="t e" x="470" y="720">Holz-</text><text class="t e" x="470" y="738">hausen</text></g>
<g id="n38"><circle class="st" cx="615" cy="737" r="7"/><text class="t e" x="607" y="748">Unterneu-</text><text class="t e" x="607" y="767">hausen</text></g>
<g id="n39"><circle class="st" cx="698" cy="770" r="7"/><text class="t" x="709" y="778">Edenland</text></g>
<g id="n40"><circle class="st" cx="673" cy="796" r="7"/><text class="t e" x="661" y="798">Furth</text></g>
<g id="n41"><circle class="st" cx="624" cy="832" r="7"/><text class="t e" x="614" y="831">Frohnberg</text></g>
<g id="n42"><circle class="st" cx="742" cy="854" r="7"/><text class="t" x="752" y="850">Arth</text></g>
<g id="n43"><circle class="st" cx="924" cy="724" r="7"/><text class="t" x="934" y="724">Oberglaim</text></g>
<g id="n44"><circle class="st" cx="934" cy="764" r="7"/><text class="t" x="945" y="764">Unterglaim</text></g>
<g id="n45"><circle class="st" cx="952" cy="833" r="7"/><text class="t" x="959" y="821">Kopfham</text></g>
<g id="n46"><circle class="st" cx="990" cy="980" r="7"/><text class="t" x="1007" y="942">Ergolding <tspan text-decoration="underline">199</tspan></text></g>
<g id="n47"><circle class="st" cx="911" cy="1003" r="7"/><text class="t e" x="902" y="1011">Pfettrach</text></g>
<g id="n48"><circle class="st" cx="944" cy="1032" r="7"/><text class="t e" x="933" y="1041">Altdorf</text></g>
<g id="n49"><circle class="st" cx="219" cy="784" r="7"/><text class="t e" x="200" y="784">Rainertshausen</text></g>
<g id="n50"><circle class="st" cx="411" cy="871" r="7"/><text class="t e" x="398" y="883">Obersüßbach</text></g>
<g id="n51"><circle class="st" cx="419" cy="956" r="7"/><text class="t" x="431" y="963">Niedermünchen/</text><text class="t" x="431" y="986">Geberskirchen</text></g>
<g id="n52"><circle class="st" cx="349" cy="992" r="7"/><text class="t" x="301" y="1018">Obermünchen</text></g>
<g id="n53"><circle class="st" cx="275" cy="994" r="7"/><text class="t e" x="283" y="981">Martinszell</text></g>
<g id="n54"><circle class="st" cx="608" cy="1202" r="7"/><text class="t e" x="595" y="1208">Attenhausen</text></g>
<g id="n55"><circle class="st" cx="681" cy="1192" r="7"/><text class="t" x="643" y="1180">Tondorf</text></g>
<g id="n56"><circle class="rd" cx="766" cy="1303" r="10"/><text class="t e" x="745" y="1282">Gündl-</text><text class="t e" x="745" y="1301">kofen</text></g>
<g id="n57"><circle class="st" cx="877" cy="1177" r="7"/><text class="t e" x="863" y="1180">Unterlenghart</text></g>
<g id="n58"><circle class="st" cx="932" cy="1121" r="7"/><text class="t" x="937" y="1146">Eugen-</text><text class="t" x="937" y="1164">bach</text></g>
<g id="n59"><circle class="st" cx="967" cy="1236" r="7"/><text class="t" x="909" y="1222">Tiefen-</text><text class="t" x="909" y="1240">bach</text></g>
<g id="n60"><circle class="st" cx="932" cy="1297" r="7"/><text class="t e" x="918" y="1301">Hofham</text></g>
<g id="n61"><circle class="st" cx="958" cy="1313" r="7"/><text class="t" x="970" y="1294">Heiden-</text><text class="t" x="970" y="1314">kam</text></g>
<g id="n62"><circle class="st" cx="901" cy="1354" r="7"/><text class="t e" x="886" y="1360">Viecht</text></g>
<g id="n63"><circle class="st" cx="1081" cy="1017" r="7"/><text class="t e" x="1073" y="1013">Piflas</text></g>
<g id="n64"><circle class="st" cx="1117" cy="1015" r="7"/></g>
<g id="n65"><circle class="st" cx="1044" cy="1185" r="7"/><text class="s" x="1059" y="1188">Kumhausen</text></g>
<g id="n66"><circle class="st" cx="1093" cy="1226" r="7"/><text class="t e" x="1087" y="1240">Grammel-</text><text class="t" x="1051" y="1258">kam</text></g>
<g id="n67"><circle class="st" cx="1143" cy="1236" r="7"/><text class="t" x="1148" y="1258">Ober-</text><text class="t" x="1148" y="1279">gangkofen</text></g>
<g id="n68"><circle class="st" cx="1141" cy="1349" r="7"/><text class="t" x="1153" y="1345">Mantel-</text><text class="t" x="1153" y="1363">kam</text></g>
<g id="n69"><circle class="st" cx="1053" cy="1344" r="7"/><text class="t" x="1042" y="1314">Münchs-</text><text class="t" x="1042" y="1333">dorf</text></g>
<g id="n70"><circle class="st" cx="1237" cy="1157" r="7"/><text class="t" x="1232" y="1143">Jenkofen</text></g>
<g id="n71"><circle class="rd" cx="1049" cy="1142" r="10"/><text class="t" x="1053" y="1135">LA-Süd</text></g>
<g id="n72"><circle class="rd" cx="1011" cy="1071" r="10"/><text class="t e" x="995" y="1080">Hbf</text><text x="1033" y="1098" style="font-size:26px">Landshut</text></g>
<g id="n73"><circle class="st" cx="885" cy="1388" r="7"/><text class="t e" x="875" y="1393">Kronwinkl</text></g>
<g id="n74"><circle class="st" cx="865" cy="1427" r="7"/><text class="t e" x="851" y="1433">Weixerau</text></g>
<g id="n75"><circle class="st" cx="840" cy="1467" r="7"/><text class="t e" x="826" y="1472">Thal</text></g>
<g id="n76"><circle class="st" cx="823" cy="1495" r="7"/><text class="t" x="834" y="1506">Haslfurth</text></g>
<g id="n77"><circle class="st" cx="772" cy="1497" r="7"/><text class="t" x="696" y="1480">Nieder-</text><text class="t e" x="762" y="1499">erlbach</text></g>
<g id="n78"><circle class="st" cx="738" cy="1546" r="7"/><text class="t e" x="725" y="1552">Buch</text></g>
<g id="n79"><circle class="st" cx="836" cy="1538" r="7"/><text class="t" x="848" y="1544">Haunwang</text></g>
<g id="n80"><circle class="st" cx="735" cy="1591" r="7"/><text class="t" x="747" y="1597">Holzhäuseln</text></g>
<g id="n81"><circle class="st" cx="727" cy="1643" r="7"/><text class="t" x="740" y="1650">Thann</text></g>
<g id="n82"><circle class="st" cx="724" cy="1698" r="7"/><text class="t" x="740" y="1703">Groß-</text><text class="t" x="740" y="1725">aibach</text></g>
<g id="n83"><circle class="st" cx="945" cy="1400" r="7"/><text class="t" x="955" y="1396">Ast</text></g>
<g id="n84"><circle class="st" cx="933" cy="1443" r="7"/><text class="t e" x="947" y="1465">Güters-</text><text class="t e" x="947" y="1482">dorf</text></g>
<g id="n85"><circle class="st" cx="978" cy="1445" r="7"/><text class="t" x="949" y="1433">Kapfing</text></g>
<g id="n86"><circle class="st" cx="1013" cy="1465" r="7"/><text class="t" x="1007" y="1488">Vilsheim</text></g>
<g id="n87"><circle class="rd" cx="690" cy="1380" r="10"/><text class="t e" x="678" y="1383">Bruckberg</text></g>
<g id="n88"><circle class="st" cx="1117" cy="1427" r="7"/><text class="t" x="1127" y="1443">Altfraunhofen</text></g>
<g id="n89"><circle class="st" cx="1204" cy="1386" r="7"/><text class="t" x="1191" y="1412">Gallusberg</text></g>
<g id="n90"><circle class="st" cx="1383" cy="1158" r="7"/><text class="t" x="1348" y="1143">Adlkofen</text></g>
<g id="n91"><circle class="st" cx="1388" cy="1222" r="7"/><text class="t e" x="1379" y="1230">Günzkofen</text></g>
<g id="n92"><circle class="st" cx="1450" cy="1220" r="7"/><text class="t" x="1406" y="1199">Göttlkofen</text></g>
<g id="n93"><circle class="rd" cx="1447" cy="1313" r="10"/><text class="t e" x="1424" y="1319">Geisen-</text><text class="t e" x="1424" y="1338">hausen</text></g>
<g id="n94"><circle class="st" cx="1389" cy="1497" r="7"/><text class="t e" x="1393" y="1487">Haarbach</text></g>
<g id="n95"><circle class="st" cx="1142" cy="1522" r="7"/><text class="t e" x="1134" y="1526">Baierbach</text></g>
<g id="n96"><circle class="st" cx="1179" cy="1661" r="7"/><text class="t e" x="1169" y="1673">Neufraunhofen</text></g>
<g id="n97"><circle class="st" cx="1235" cy="1675" r="7"/><text class="t" x="1238" y="1647">Dom-</text><text class="t" x="1238" y="1664">bach</text></g>
<g id="n98"><circle class="st" cx="1247" cy="1701" r="7"/><text class="t" x="1259" y="1710">Obervilslern</text></g>
<g id="n99"><circle class="st" cx="1278" cy="1740" r="7"/><text class="t" x="1288" y="1745">Vilssöhl</text></g>
<g id="n100"><circle class="st" cx="1198" cy="1731" r="7"/><text class="t e" x="1186" y="1740">Hub</text></g>
<g id="n101"><circle class="st" cx="1245" cy="1813" r="7"/><text class="t" x="1216" y="1842">Velden</text></g>
<g id="n102"><circle class="st" cx="1156" cy="1832" r="7"/><text class="t" x="1119" y="1819">Babing</text></g>
<g id="n103"><circle class="st" cx="1163" cy="1871" r="7"/><text class="t e" x="1152" y="1880">Erlach</text></g>
<g id="n104"><circle class="st" cx="1311" cy="1881" r="7"/><text class="t" x="1262" y="1909">Schleichwies</text></g>
<g id="n105"><circle class="st" cx="1425" cy="1881" r="7"/><text class="t" x="1425" y="1909">Kupferstatt</text></g>
<g id="n106"><circle class="st" cx="1500" cy="1837" r="7"/><text class="t" x="1500" y="1867">Wurmsham</text></g>
<g id="n107"><circle class="st" cx="1521" cy="1792" r="7"/><text class="t" x="1436" y="1780">Pauluszell</text></g>
<g id="n108"><circle class="st" cx="1599" cy="1770" r="7"/><text class="t" x="1596" y="1795">March</text></g>
<g id="n109"><circle class="st" cx="1610" cy="1729" r="7"/><text class="t e" x="1602" y="1725">Breitenau</text></g>
<g id="n110"><circle class="st" cx="1672" cy="1700" r="7"/><text class="t" x="1673" y="1731">Thal</text></g>
<g id="n111"><circle class="st" cx="1477" cy="1714" r="7"/><text class="t" x="1391" y="1680">Ruprechts-</text><text class="t e" x="1484" y="1698">berg</text></g>
<g id="n112"><circle class="st" cx="1737" cy="1618" r="7"/><text class="t" x="1750" y="1629">Boden-</text><text class="t" x="1750" y="1648">kirchen</text><text class="t" x="1750" y="1668" text-decoration="underline">999</text></g>
<g id="n113"><circle class="st" cx="1785" cy="1565" r="7"/><text class="t" x="1796" y="1573">Bonbruck</text></g>
<g id="n114"><circle class="st" cx="1644" cy="1583" r="7"/><text class="t e" x="1632" y="1590">Eberspoint</text></g>
<g id="n115"><circle class="st" cx="1679" cy="1508" r="7"/><text class="s e" x="1668" y="1511">Achldorf</text></g>
<g id="n116"><circle class="st" cx="1704" cy="1511" r="7"/><text class="s" x="1715" y="1514">Wachsen-</text><text class="s" x="1715" y="1527">berg</text></g>
<g id="n117"><circle class="st" cx="1822" cy="1490" r="7"/><text class="t" x="1815" y="1518">Frauen-</text><text class="t" x="1815" y="1537">sattling</text></g>
<g id="n118"><circle class="st" cx="1553" cy="1511" r="7"/><text class="t" x="1481" y="1532">Tattendorf</text></g>
<g id="n119"><circle class="st" cx="1463" cy="1446" r="7"/><text class="t" x="1363" y="1418">Schneden-</text><text class="t e" x="1458" y="1437">haarbach</text></g>
<g id="n120"><circle class="st" cx="1329" cy="1539" r="7"/><text class="s e" x="1324" y="1518">Hermanns-</text><text class="s e" x="1321" y="1534">kirchen</text></g>
<g id="n121"><circle class="st" cx="1351" cy="1584" r="7"/><text class="s e" x="1340" y="1590">Brandlmeier-</text><text class="s e" x="1336" y="1606">bach</text></g>
<g id="n122"><circle class="st" cx="1360" cy="1628" r="7"/><text class="t" x="1372" y="1636">Asang</text></g>
<g id="n123"><circle class="rd" cx="1703" cy="1437" r="10"/><text class="t" x="1600" y="1450">Vilsbiburg</text></g>
<g id="n124"><circle class="st" cx="1593" cy="1423" r="7"/><text class="s e" x="1586" y="1421">Frauen-</text><text class="s e" x="1582" y="1434">haarbach</text></g>
<g id="n125"><circle class="st" cx="1539" cy="1361" r="7"/><text class="s e" x="1536" y="1375">Seybolds-</text><text class="s e" x="1531" y="1390">dorf</text></g>
<g id="n126"><circle class="st" cx="1749" cy="1411" r="7"/><text class="t" x="1714" y="1399">Aich/Ay</text></g>
<g id="n127"><circle class="st" cx="1797" cy="1398" r="7"/><text class="t" x="1807" y="1403">Loh</text></g>
<g id="n128"><circle class="rd" cx="1788" cy="1453" r="10"/><text class="t" x="1821" y="1462">Aich (Hilling)</text></g>
<g id="n129"><circle class="st" cx="1720" cy="1354" r="7"/><text class="t" x="1642" y="1339">Lichten-</text><text class="t e" x="1709" y="1357">haag</text></g>
<g id="n130"><circle class="st" cx="1713" cy="1200" r="7"/><text class="t e" x="1704" y="1208">Hub</text></g>
<g id="n131"><circle class="st" cx="1595" cy="1270" r="7"/><text class="t" x="1521" y="1295">Jesendorf</text></g>
<g id="n132"><circle class="st" cx="1584" cy="1214" r="7"/><text class="s e" x="1578" y="1191">Triendorf</text><text class="s e" x="1578" y="1208">Kirchberg</text></g>
<g id="n133"><circle class="st" cx="1588" cy="1126" r="7"/><text class="t" x="1484" y="1114">Oberaichbach</text></g>
<g id="n134"><circle class="st" cx="1688" cy="1100" r="7"/><text class="s" x="1642" y="1063">O.-schnitten-</text><text class="s" x="1669" y="1081">kofen</text></g>
<g id="n135"><circle class="st" cx="1790" cy="1099" r="7"/><text class="s" x="1751" y="1063">U.-hausen-</text><text class="s" x="1777" y="1081">thal</text></g>
<g id="n136"><circle class="st" cx="1851" cy="1099" r="7"/><text class="t" x="1837" y="1125">Aham</text></g>
<g id="n137"><circle class="st" cx="1918" cy="1099" r="7"/><text class="t" x="1896" y="1087">Loizenkirchen</text></g>
<g id="n138"><circle class="st" cx="1750" cy="1127" r="7"/><text class="t" x="1759" y="1146">Gerzen</text></g>
<g id="n139"><circle class="st" cx="1749" cy="1172" r="7"/><text class="t" x="1761" y="1179">Rutting</text></g>
<g id="n140"><circle class="st" cx="1743" cy="1222" r="7"/><text class="t" x="1755" y="1230">Eggenpoint</text></g>
<g id="n141"><circle class="st" cx="1746" cy="1284" r="7"/><text class="t e" x="1738" y="1291">Allersbach</text></g>
<g id="n142"><circle class="st" cx="1908" cy="1174" r="7"/><text class="t" x="1858" y="1163">Rothenwörth</text></g>
<g id="n143"><circle class="st" cx="1786" cy="1271" r="7"/><text class="t" x="1798" y="1277">Hörasdorf</text></g>
<g id="n144"><circle class="st" cx="1888" cy="1306" r="7"/><text class="t" x="1901" y="1312">Litzelkirchen</text></g>
<g id="n145"><circle class="rd" cx="1671" cy="894" r="10"/><text class="t" x="1688" y="913">Wörth a.d. Isar</text></g>
<g id="n146"><circle class="st" cx="1455" cy="962" r="7"/><text class="t e" x="1447" y="978">Nieder-</text><text class="t e" x="1455" y="997">aichbach</text></g>
<g id="n147"><circle class="st" cx="1498" cy="968" r="7"/><text class="t" x="1492" y="994">Hütten-</text><text class="t" x="1492" y="1012">kofen</text></g>
<g id="n148"><circle class="st" cx="1386" cy="921" r="7"/><text class="t" x="1319" y="940">Ober-/</text><text class="t" x="1275" y="958">Unterahrain</text></g>
<g id="n149"><circle class="st" cx="1354" cy="878" r="7"/><text class="t" x="1364" y="886">Ohu</text></g>
<g id="n150"><circle class="st" cx="1323" cy="888" r="7"/><text class="t" x="1266" y="878">Gaden</text></g>
<g id="n151"><circle class="st" cx="1297" cy="906" r="7"/><text class="t" x="1220" y="901">Altheim</text></g>
<g id="n152"><circle class="st" cx="1321" cy="821" r="7"/><text class="t" x="1200" y="825">Essenbach</text></g>
<g id="n153"><circle class="st" cx="1389" cy="816" r="7"/><text class="t" x="1397" y="834">Unterwatten-</text><text class="t" x="1397" y="853">bach</text></g>
<g id="n154"><circle class="st" cx="1449" cy="779" r="7"/><text class="t" x="1453" y="803">Mettenbach</text></g>
<g id="n155"><circle class="st" cx="1489" cy="754" r="7"/><text class="t" x="1499" y="771">Grießenbach</text></g>
<g id="n156"><circle class="st" cx="1515" cy="738" r="7"/><text class="t" x="1527" y="739">Postau</text></g>
<g id="n157"><circle class="st" cx="1426" cy="735" r="7"/><text class="s" x="1393" y="755">Unteruns-</text><text class="s" x="1393" y="771">bach</text></g>
<g id="n158"><circle class="st" cx="1328" cy="733" r="7"/><text class="s" x="1280" y="755">Unteruns-</text><text class="s" x="1280" y="771">bacher Berg</text></g>
<g id="n159"><circle class="st" cx="1249" cy="767" r="7"/><text class="t" x="1154" y="775">Mirskofen</text></g>
<g id="n160"><circle class="st" cx="1384" cy="683" r="7"/><text class="t e" x="1368" y="675">Martins-/</text><text class="t e" x="1369" y="693">Osterhaun</text></g>
<g id="n161"><circle class="st" cx="1696" cy="700" r="7"/><text class="t" x="1648" y="721">Trauseneck</text></g>
<g id="n162"><circle class="st" cx="1744" cy="662" r="7"/><text class="t" x="1759" y="670">Hörmannsdorf</text></g>
<g id="n163"><circle class="st" cx="1126" cy="213" r="7"/><text class="t" x="1118" y="200">Altensdorf</text></g>
<g id="n164"><circle class="st" cx="1290" cy="258" r="7"/><text class="t" x="1223" y="286">Ettenkofen</text></g>
<g id="n165"><circle class="st" cx="1400" cy="241" r="7"/><text class="t e" x="1409" y="228">Winklsaß</text></g>
<g id="n166"><circle class="rd" cx="1476" cy="231" r="10"/><text class="t" x="1488" y="254">Neufahrn</text></g>
<g id="n167"><circle class="st" cx="1478" cy="370" r="7"/><text class="t" x="1489" y="366">Jellenkofen</text><text class="t" x="1489" y="384">Prinkofen</text></g>
<g id="n168"><circle class="rd" cx="1311" cy="456" r="10"/><text class="t" x="1202" y="442">Ergoldsbach</text></g>
<g id="n169"><circle class="st" cx="1364" cy="504" r="7"/><text class="t" x="1373" y="499">Siegens-</text><text class="t" x="1373" y="518">dorf</text></g>
<g id="n170"><circle class="st" cx="1093" cy="490" r="7"/><text class="t" x="1043" y="476">Pfarrkofen</text></g>
<g id="n171"><circle class="st" cx="1206" cy="533" r="7"/><text class="t e" x="1190" y="540">Ober-</text><text class="t e" x="1190" y="560">ergoldsbach</text></g>
<g id="n172"><circle class="st" cx="1349" cy="584" r="7"/><text class="t" x="1275" y="601">Kläham</text></g>
<g id="n173"><circle class="st" cx="1441" cy="527" r="7"/><text class="t" x="1452" y="527" style="font-size:18px">Paindlkofen</text></g>
<g id="n174"><circle class="st" cx="1483" cy="562" r="7"/><text class="s" x="1402" y="567">Hölskofen</text></g>
<g id="n175"><circle class="st" cx="1595" cy="570" r="7"/><text class="t" x="1562" y="557">Bayerbach</text></g>
<g id="n176"><circle class="st" cx="1621" cy="598" r="7"/><text class="t" x="1632" y="603">Mausham</text></g>
<g id="n177"><circle class="st" cx="1397" cy="634" r="7"/><text class="s" x="1359" y="609">Unter-/ Ober-</text><text class="s" x="1375" y="625">röhrenbach</text></g>
<g id="n178"><circle class="st" cx="1502" cy="631" r="7"/><text class="s" x="1482" y="605">Unterkölln-</text><text class="s" x="1482" y="621">bach</text></g>
<g id="n179"><circle class="st" cx="1532" cy="644" r="7"/><text class="s" x="1501" y="662">Oberkölln-</text><text class="s" x="1521" y="679">bach</text></g>
<g id="n180"><circle class="st" cx="1555" cy="631" r="7"/><text class="s" x="1564" y="638">Armannsberg</text></g>
<g id="n181"><circle class="st" cx="1734" cy="551" r="7"/><text class="t" x="1743" y="545">Hösacker</text></g>
<g id="n182"><circle class="st" cx="1791" cy="625" r="7"/><text class="s" x="1802" y="590">Weng</text><text class="s" x="1802" y="609">Raffach</text><text class="s" x="1802" y="627">Veitsbuch</text></g>
</g>
<g id="logo"><rect x="1250" y="1024" width="31" height="30" fill="#0b6fb3"/><path d="M1265,1028L1274,1036V1046L1265,1050L1256,1046V1036Z" fill="#fff"/><text x="1285" y="1037" style="font-size:17px;fill:#0b6fb3">STADTWERKE</text><text x="1285" y="1054" style="font-size:17px;fill:#8f8f8f">LANDSHUT</text></g>
<g id="title"><text x="0" y="135" style="font-size:93px;font-weight:bold;fill:#3a3a3a">plan</text><text x="64" y="210" style="font-size:50px;fill:#3a3a3a;text-anchor:end">018</text></g>
<g id="note"><rect x="106" y="1842" width="819" height="200" fill="#fff" stroke="#444" stroke-width="5"/><text x="180" y="1897" style="fill:#444;font-size:21.4px">Die Linienverläufe können je Fahrt von der dargestellten Route</text><text x="180" y="1923" style="fill:#444;font-size:21.4px">abweichen und es werden nicht bei jeder Fahrt alle Haltestellen bedient.</text><text x="180" y="1949" style="fill:#444;font-size:21.4px;font-weight:bold">Die jeweils gültigen Fahrpläne sind zu beachten.</text></g>
<text x="1786" y="1995" style="font-size:26.5px;fill:#444">Gültig ab 01.01.2019</text>
</svg>
